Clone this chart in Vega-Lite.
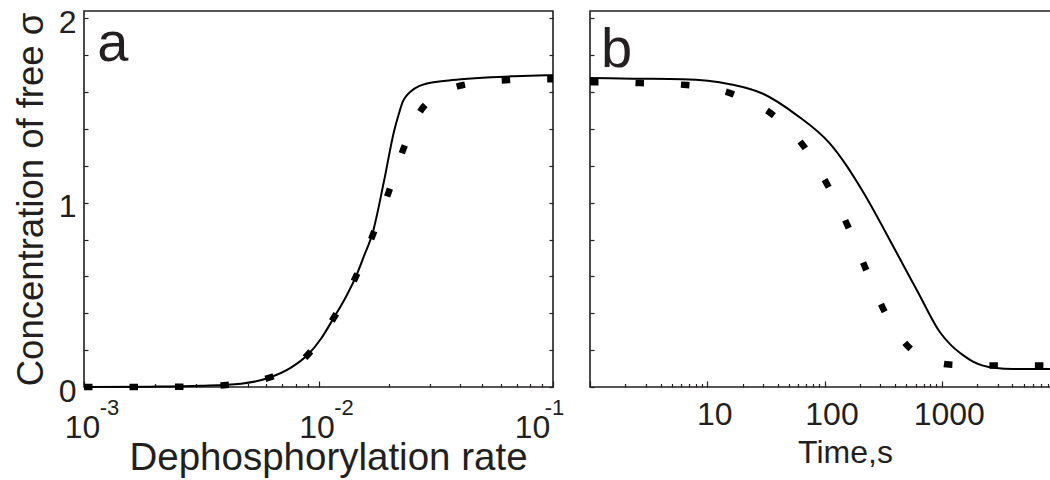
{
  "$schema": "https://vega.github.io/schema/vega-lite/v6.json",
  "padding": {"left": 12, "top": 5, "right": 0, "bottom": 0},
  "background": "white",
  "config": {
    "font": "Liberation Sans",
    "view": {"stroke": "#231f20", "strokeWidth": 1.6},
    "axis": {
      "labelFont": "Liberation Sans", "titleFont": "Liberation Sans",
      "labelColor": "#231f20", "titleColor": "#231f20", "tickColor": "#231f20",
      "domain": false, "grid": false, "titleFontWeight": "normal",
      "labelFlush": false, "labelOverlap": false, "tickWidth": 1.2
    }
  },
  "datasets": {
    "a_solid": [
      {"rate": 0.001, "conc": 0}, {"rate": 0.00193, "conc": 0.002}, {"rate": 0.003155, "conc": 0.007},
      {"rate": 0.00467, "conc": 0.018}, {"rate": 0.00615, "conc": 0.05}, {"rate": 0.00763, "conc": 0.105},
      {"rate": 0.00902, "conc": 0.176}, {"rate": 0.01025, "conc": 0.262}, {"rate": 0.01164, "conc": 0.377},
      {"rate": 0.0131, "conc": 0.49}, {"rate": 0.01445, "conc": 0.6}, {"rate": 0.01548, "conc": 0.697},
      {"rate": 0.01708, "conc": 0.844}, {"rate": 0.01902, "conc": 1.116}, {"rate": 0.021, "conc": 1.388},
      {"rate": 0.02205, "conc": 1.485}, {"rate": 0.02293, "conc": 1.551}, {"rate": 0.02384, "conc": 1.583},
      {"rate": 0.0248, "conc": 1.605}, {"rate": 0.02683, "conc": 1.632}, {"rate": 0.0293, "conc": 1.648},
      {"rate": 0.035, "conc": 1.662}, {"rate": 0.0405, "conc": 1.67}, {"rate": 0.0544, "conc": 1.681},
      {"rate": 0.0682, "conc": 1.686}, {"rate": 0.1, "conc": 1.692}
    ],
    "a_dotted": [
      {"rate": 0.001, "conc": 0}, {"rate": 0.0016, "conc": 0}, {"rate": 0.00252, "conc": 0.001},
      {"rate": 0.00395, "conc": 0.01}, {"rate": 0.00615, "conc": 0.05}, {"rate": 0.00902, "conc": 0.176},
      {"rate": 0.01164, "conc": 0.377}, {"rate": 0.01445, "conc": 0.6}, {"rate": 0.01708, "conc": 0.828},
      {"rate": 0.01998, "conc": 1.062}, {"rate": 0.02316, "conc": 1.3}, {"rate": 0.02818, "conc": 1.523},
      {"rate": 0.0409, "conc": 1.637}, {"rate": 0.0649, "conc": 1.665}, {"rate": 0.1, "conc": 1.67}
    ],
    "b_solid": [
      {"t": 1, "c": 1.676}, {"t": 2.326, "c": 1.673}, {"t": 6.21, "c": 1.67}, {"t": 15.63, "c": 1.643},
      {"t": 29.9, "c": 1.591}, {"t": 57.1, "c": 1.478}, {"t": 111.4, "c": 1.32}, {"t": 152.6, "c": 1.205},
      {"t": 213, "c": 1.059}, {"t": 407, "c": 0.735},
      {"t": 627, "c": 0.514}, {"t": 966, "c": 0.297}, {"t": 1199, "c": 0.227},
      {"t": 1518, "c": 0.173}, {"t": 1847, "c": 0.138}, {"t": 2247, "c": 0.116}, {"t": 2902, "c": 0.103},
      {"t": 4052, "c": 0.098}, {"t": 10000, "c": 0.097}
    ],
    "b_dotted": [
      {"t": 1, "c": 1.654}, {"t": 1.103, "c": 1.654}, {"t": 2.72, "c": 1.649}, {"t": 6.72, "c": 1.638},
      {"t": 16.58, "c": 1.589}, {"t": 36.4, "c": 1.476}, {"t": 68.2, "c": 1.297}, {"t": 109.2, "c": 1.081},
      {"t": 161.8, "c": 0.859}, {"t": 226, "c": 0.638}, {"t": 328, "c": 0.405}, {"t": 547, "c": 0.205},
      {"t": 760, "c": 0.15}, {"t": 1153, "c": 0.122}, {"t": 2790, "c": 0.116}, {"t": 6887, "c": 0.116},
      {"t": 10000, "c": 0.116}
    ]
  },
  "spacing": 9,
  "hconcat": [
    {
      "width": 469, "height": 376,
      "layer": [
        {
          "data": {"name": "a_solid"},
          "mark": {"type": "line", "color": "black", "strokeWidth": 2, "interpolate": "monotone"},
          "encoding": {
            "x": {
              "field": "rate", "type": "quantitative",
              "scale": {"type": "log", "domain": [0.001, 0.1]},
              "axis": {
                "orient": "bottom",
                "values": [0.001, 0.002, 0.003, 0.004, 0.005, 0.006, 0.007, 0.008, 0.009, 0.01, 0.02, 0.03, 0.04, 0.05, 0.06, 0.07, 0.08, 0.09, 0.1],
                "labelExpr": "abs(log(datum.value)/LN10 - round(log(datum.value)/LN10)) < 0.001 ? '10' : ''",
                "labelFontSize": 32, "labelPadding": 31,
                "labelOffset": {"condition": {"test": "datum.value > 0.05", "value": -21}, "value": -2},
                "tickSize": {"condition": {"test": "abs(log(datum.value)/LN10 - round(log(datum.value)/LN10)) < 0.001", "value": -6}, "value": -3.5},
                "title": "Dephosphorylation rate", "titleFontSize": 38.5, "titleX": 244, "titleY": 52
              }
            },
            "y": {
              "field": "conc", "type": "quantitative",
              "scale": {"domain": [0, 2.04], "nice": false},
              "axis": {
                "orient": "left",
                "values": [0, 0.2, 0.4, 0.6, 0.8, 1, 1.2, 1.4, 1.6, 1.8, 2],
                "labelExpr": "datum.value == 0 ? '0' : datum.value == 1 ? '1' : datum.value == 2 ? '2' : ''",
                "labelFontSize": 32, "labelPadding": 12, "labelOffset": 4, "tickSize": -4,
                "title": "Concentration of free σ", "titleFontSize": 36.5, "titlePadding": 8
              }
            }
          }
        },
        {
          "data": {"name": "a_dotted"},
          "mark": {"type": "line", "color": "black", "strokeWidth": 6.5, "strokeDash": [8.5, 37], "strokeCap": "butt", "interpolate": "monotone"},
          "encoding": {
            "x": {
              "field": "rate", "type": "quantitative",
              "axis": {
                "orient": "bottom", "values": [0.001, 0.01, 0.1],
                "labelExpr": "datum.value < 0.005 ? '-3' : datum.value < 0.05 ? '-2' : '-1'",
                "labelFontSize": 22, "ticks": false, "labelPadding": 10.5,
                "labelOffset": {"condition": {"test": "datum.value > 0.05", "value": 1}, "value": 25},
                "title": null
              }
            },
            "y": {
              "field": "conc", "type": "quantitative",
              "axis": {
                "orient": "right", "values": [0, 0.2, 0.4, 0.6, 0.8, 1, 1.2, 1.4, 1.6, 1.8, 2],
                "labels": false, "tickSize": -4, "title": null
              }
            }
          }
        },
        {
          "data": {"values": [{}]},
          "mark": {"type": "text", "text": "a", "fontSize": 56, "align": "left", "baseline": "alphabetic", "color": "#231f20", "font": "Liberation Sans"},
          "encoding": {
            "x": {"datum": 0.00114, "type": "quantitative", "axis": null},
            "y": {"datum": 1.768, "type": "quantitative", "axis": null}
          }
        }
      ],
      "resolve": {"axis": {"x": "independent", "y": "independent"}}
    },
    {
      "width": 469, "height": 376,
      "layer": [
        {
          "data": {"name": "b_solid"},
          "mark": {"type": "line", "color": "black", "strokeWidth": 2, "interpolate": "monotone"},
          "encoding": {
            "x": {
              "field": "t", "type": "quantitative",
              "scale": {"type": "log", "domain": [1, 10000]},
              "axis": {
                "orient": "bottom",
                "values": [1, 2, 3, 4, 5, 6, 7, 8, 9, 10, 20, 30, 40, 50, 60, 70, 80, 90, 100, 200, 300, 400, 500, 600, 700, 800, 900, 1000, 2000, 3000, 4000, 5000, 6000, 7000, 8000, 9000, 10000],
                "labelExpr": "datum.value == 10 ? '10' : datum.value == 100 ? '100' : datum.value == 1000 ? '1000' : ''",
                "labelFontSize": 32, "labelPadding": 18, "labelOffset": 7,
                "tickSize": {"condition": {"test": "abs(log(datum.value)/LN10 - round(log(datum.value)/LN10)) < 0.001", "value": -6}, "value": -3.5},
                "title": "Time,s", "titleFontSize": 32, "titleX": 255, "titleY": 50
              }
            },
            "y": {
              "field": "c", "type": "quantitative",
              "scale": {"domain": [0, 2.04], "nice": false},
              "axis": {
                "orient": "left", "values": [0, 0.2, 0.4, 0.6, 0.8, 1, 1.2, 1.4, 1.6, 1.8, 2],
                "labels": false, "tickSize": -4, "title": null
              }
            }
          }
        },
        {
          "data": {"name": "b_dotted"},
          "mark": {"type": "line", "color": "black", "strokeWidth": 6.5, "strokeDash": [8.5, 37], "strokeCap": "butt", "interpolate": "monotone"},
          "encoding": {
            "x": {"field": "t", "type": "quantitative", "axis": null},
            "y": {
              "field": "c", "type": "quantitative",
              "axis": {
                "orient": "right", "values": [0, 0.2, 0.4, 0.6, 0.8, 1, 1.2, 1.4, 1.6, 1.8, 2],
                "labels": false, "tickSize": -4, "title": null
              }
            }
          }
        },
        {
          "data": {"values": [{}]},
          "mark": {"type": "text", "text": "b", "fontSize": 56, "align": "left", "baseline": "alphabetic", "color": "#231f20", "font": "Liberation Sans"},
          "encoding": {
            "x": {"datum": 1.24, "type": "quantitative", "axis": null},
            "y": {"datum": 1.735, "type": "quantitative", "axis": null}
          }
        }
      ],
      "resolve": {"axis": {"x": "independent", "y": "independent"}}
    }
  ]
}
